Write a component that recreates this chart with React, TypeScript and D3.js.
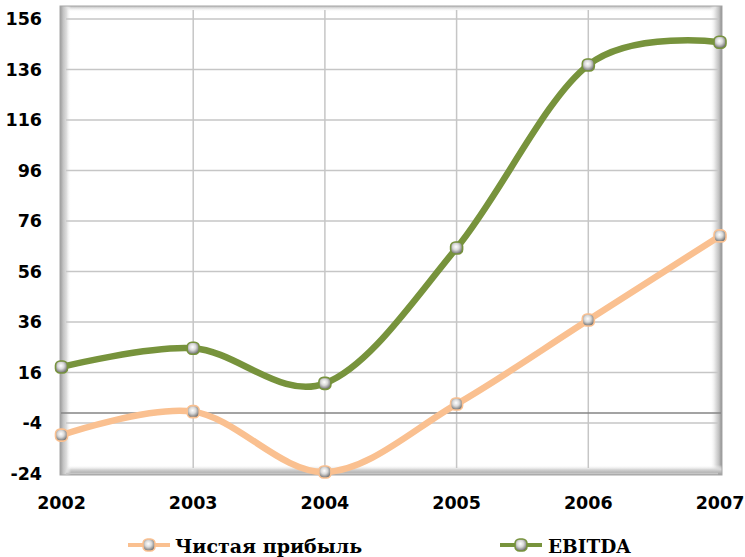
import React from "react";
import * as d3 from "d3";

const years = ["2002", "2003", "2004", "2005", "2006", "2007"];
const netProfit = [-8.8, 0.5, -23.4, 3.5, 36.8, 70.1];
const ebitda = [18.2, 25.6, 11.7, 65.3, 137.8, 146.8];
const yTicks = [-24, -4, 16, 36, 56, 76, 96, 116, 136, 156];
const seriesNames = ["Чистая прибыль", "EBITDA"];
const seriesColors = ["#fac090", "#77933c"];

const W = 745;
const H = 557;

export default function App() {
  const x = d3.scalePoint<string>().domain(years).range([61.5, 720]);
  const y = d3.scaleLinear().domain([-24, 156]).range([473.5, 19]);

  const line = d3
    .line<number>()
    .x((_, i) => x(years[i]) as number)
    .y((d) => y(d))
    .curve(d3.curveCardinal.tension(0));

  const series = [netProfit, ebitda];

  const frame = { x0: 60, y0: 6, x1: 722, y1: 475 };

  const marker = (cx: number, cy: number, color: string, key: string) => (
    <g key={key}>
      <rect
        x={cx - 6}
        y={cy - 6}
        width={12}
        height={12}
        rx={4.5}
        fill="url(#ball)"
        stroke={color}
        strokeWidth={1.6}
      />
    </g>
  );

  return (
    <svg
      width={W}
      height={H}
      style={{ position: "absolute", left: 0, top: 0 }}
      fontFamily="'DejaVu Sans', Verdana, sans-serif"
    >
      <defs>
        <radialGradient id="ball" cx="45%" cy="40%" r="60%">
          <stop offset="0%" stopColor="#ffffff" />
          <stop offset="45%" stopColor="#d9d9d9" />
          <stop offset="100%" stopColor="#6e6e6e" />
        </radialGradient>
        <linearGradient id="wallLeft" x1="0" x2="1" y1="0" y2="0">
          <stop offset="0%" stopColor="#9a9a9a" />
          <stop offset="30%" stopColor="#c4c4c4" />
          <stop offset="60%" stopColor="#dedede" />
          <stop offset="100%" stopColor="#ffffff" stopOpacity={0} />
        </linearGradient>
        <linearGradient id="wallRight" x1="0" x2="1" y1="0" y2="0">
          <stop offset="0%" stopColor="#ffffff" stopOpacity={0} />
          <stop offset="45%" stopColor="#e2e2e2" />
          <stop offset="75%" stopColor="#c0c0c0" />
          <stop offset="100%" stopColor="#8c8c8c" />
        </linearGradient>
        <linearGradient id="floor" x1="0" x2="0" y1="0" y2="1">
          <stop offset="0%" stopColor="#ffffff" stopOpacity={0} />
          <stop offset="45%" stopColor="#d6d6d6" />
          <stop offset="75%" stopColor="#b4b4b4" />
          <stop offset="100%" stopColor="#989898" />
        </linearGradient>
        <linearGradient id="wallTop" x1="0" x2="0" y1="0" y2="1">
          <stop offset="0%" stopColor="#bdbdbd" />
          <stop offset="40%" stopColor="#e4e4e4" />
          <stop offset="100%" stopColor="#ffffff" stopOpacity={0} />
        </linearGradient>
      </defs>

      <rect x={0} y={0} width={W} height={H} fill="#ffffff" />

      {/* plot walls */}
      <rect
        x={frame.x0}
        y={frame.y0}
        width={frame.x1 - frame.x0}
        height={frame.y1 - frame.y0}
        fill="#ffffff"
      />
      <rect x={frame.x0} y={frame.y0} width={frame.x1 - frame.x0} height={6} fill="url(#wallTop)" />
      <rect x={frame.x1 - 12} y={frame.y0} width={12} height={frame.y1 - frame.y0} fill="url(#wallRight)" />
      <rect x={frame.x0} y={frame.y1 - 10} width={frame.x1 - frame.x0} height={10} fill="url(#floor)" />
      <rect x={frame.x0} y={frame.y0} width={11} height={frame.y1 - frame.y0} fill="url(#wallLeft)" />
      <rect
        x={frame.x0}
        y={frame.y0}
        width={frame.x1 - frame.x0}
        height={frame.y1 - frame.y0}
        fill="none"
        stroke="#a6a6a6"
        strokeWidth={1}
      />

      {/* gridlines */}
      {yTicks.map((t) => (
        <line
          key={"h" + t}
          x1={66}
          x2={718}
          y1={y(t)}
          y2={y(t)}
          stroke="#c6c6c6"
          strokeWidth={1.5}
        />
      ))}
      {years.slice(1, -1).map((yr) => (
        <line
          key={"v" + yr}
          x1={x(yr)}
          x2={x(yr)}
          y1={10}
          y2={468}
          stroke="#c6c6c6"
          strokeWidth={1.5}
        />
      ))}

      {/* zero line */}
      <line x1={61} x2={721} y1={y(0)} y2={y(0)} stroke="#858585" strokeWidth={1.5} />

      {/* y-axis labels */}
      {yTicks.map((t) => (
        <text
          key={"yl" + t}
          x={42}
          y={y(t)}
          dy="0.36em"
          textAnchor="end"
          fontSize={17.5}
          fontWeight="bold"
          fill="#000"
        >
          {t}
        </text>
      ))}

      {/* x-axis labels */}
      {years.map((yr) => (
        <text
          key={"xl" + yr}
          x={x(yr)}
          y={509}
          textAnchor="middle"
          fontSize={17.5}
          fontWeight="bold"
          fill="#000"
        >
          {yr}
        </text>
      ))}

      {/* series lines */}
      {series.map((s, si) => (
        <path
          key={"l" + si}
          d={line(s) as string}
          fill="none"
          stroke={seriesColors[si]}
          strokeWidth={6.5}
          strokeLinecap="round"
          strokeLinejoin="round"
        />
      ))}

      {/* markers */}
      {series.map((s, si) =>
        s.map((v, i) => marker(x(years[i]) as number, y(v), seriesColors[si], `m${si}-${i}`))
      )}

      {/* legend */}
      {[
        { x0: 128, tx: 175, fs: 19 },
        { x0: 500, tx: 548, fs: 18.5 },
      ].map((l, si) => (
        <g key={"lg" + si}>
          <line
            x1={l.x0}
            x2={l.x0 + 42}
            y1={545}
            y2={545}
            stroke={seriesColors[si]}
            strokeWidth={4}
          />
          {marker(l.x0 + 21, 545, seriesColors[si], "lm" + si)}
          <text
            x={l.tx}
            y={553}
            fontSize={l.fs}
            fontWeight="bold"
            fontFamily="'DejaVu Serif', 'Liberation Serif', serif"
            fill="#000"
          >
            {seriesNames[si]}
          </text>
        </g>
      ))}
    </svg>
  );
}
